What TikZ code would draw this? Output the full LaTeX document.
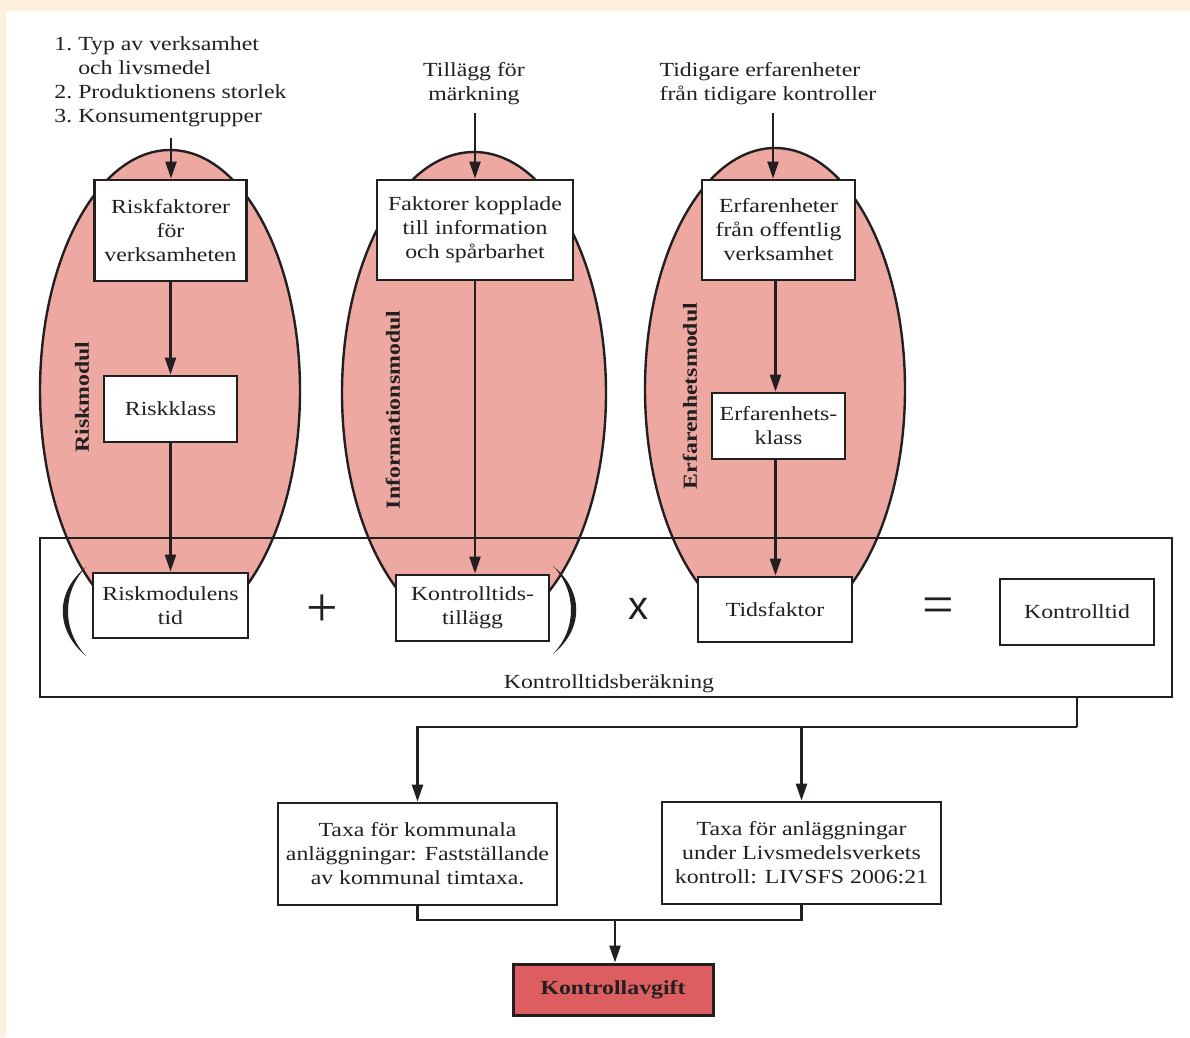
\documentclass[tikz,border=0pt]{standalone}
\usepackage{fontspec}
\setmainfont{Liberation Serif}[FakeStretch=1.19]
\newfontfamily\opserif{Liberation Serif}
\newfontfamily\opsans{Liberation Sans}
\usetikzlibrary{arrows.meta,shapes.geometric}
\definecolor{ink}{HTML}{231F20}
\definecolor{salmon}{HTML}{EDA8A1}
\definecolor{redbox}{HTML}{DD5E60}
\definecolor{cream}{HTML}{FDF0DC}
\begin{document}
\begin{tikzpicture}[x=1pt,y=-1pt,
  every node/.style={font=\fontsize{20}{24}\selectfont, text=ink},
  box/.style={draw=ink, line width=2.8pt, fill=white, align=center, inner sep=0pt},
  modul/.style={ellipse, fill=salmon, draw=ink, line width=2.4pt, inner sep=0pt, minimum width=260pt, minimum height=482pt},
  arr/.style={draw=ink, line width=2.4pt, -{Triangle[length=17pt,width=11pt]}},
  conn/.style={draw=ink, line width=2.4pt},
  lbl/.style={font=\bfseries\fontsize{20}{24}\selectfont, rotate=90},
  paren/.style={fill=ink}]
% background
\fill[white] (0,0) rectangle (1190,1037);
\fill[cream] (0,0) rectangle (1190,11);
\fill[cream] (0,0) rectangle (6,1037);
\useasboundingbox (0,0) rectangle (1190,1037);

% modules (ellipses)
\node (e1) [modul] at (170,391) {};
\node (e2) [modul, minimum width=264pt] at (474,393) {};
\node (e3) [modul] at (775,389) {};

% calculation frame
\node (calc) [draw=ink, line width=1.8pt, minimum width=1132pt, minimum height=159pt, inner sep=0pt] at (606,617.5) {};
\node (calclbl) at (609,684) {Kontrolltidsberäkning};

% inputs
\node (in1) [align=left] at (170.5,82) {1.~Typ av verksamhet\\\hphantom{1.~}och livsmedel\\2.~Produktionens storlek\\3.~Konsumentgrupper};
\node (in2) [align=center] at (474,84) {Tillägg för\\märkning};
\node (in3) [align=left] at (768,84) {Tidigare erfarenheter\\från tidigare kontroller};
\coordinate (s1) at (171,138);
\coordinate (s2) at (475,113);
\coordinate (s3) at (773,113);

% boxes
\node (rf) [box, minimum width=152pt, minimum height=101pt] at (170.5,230.5) {Riskfaktorer\\för\\verksamheten};
\node (rk) [box, minimum width=133pt, minimum height=66pt] at (170.5,409) {Riskklass};
\node (rt) [box, minimum width=155pt, minimum height=65pt] at (170.5,605.5) {Riskmodulens\\tid};
\node (fk) [box, minimum width=196pt, minimum height=100pt] at (475,230) {Faktorer kopplade\\till information\\och spårbarhet};
\node (kt) [box, minimum width=153pt, minimum height=66pt] at (472.5,608) {Kontrolltids-\\tillägg};
\node (ef) [box, minimum width=153pt, minimum height=100pt] at (778.5,230) {Erfarenheter\\från offentlig\\verksamhet};
\node (ek) [box, minimum width=133pt, minimum height=66pt] at (778.5,426) {Erfarenhets-\\klass};
\node (tf) [box, minimum width=154pt, minimum height=65pt] at (775,609.5) {Tidsfaktor};
\node (kn) [box, minimum width=154pt, minimum height=66pt] at (1077,612) {Kontrolltid};
\node (tk) [box, minimum width=279pt, minimum height=102pt] at (417.5,854) {Taxa för kommunala\\anläggningar: Fastställande\\av kommunal timtaxa.};
\node (ta) [box, minimum width=279pt, minimum height=102pt] at (801.5,853) {Taxa för anläggningar\\under Livsmedelsverkets\\kontroll: LIVSFS 2006:21};
\node (ka) [box, fill=redbox, line width=3pt, minimum width=200pt, minimum height=51pt, font=\bfseries\fontsize{20}{24}\selectfont] at (613,989.5) {Kontrollavgift};

% module labels
\node (l1) [lbl] at (82,397) {Riskmodul};
\node (l2) [lbl] at (393,410) {Informationsmodul};
\node (l3) [lbl] at (690,396) {Erfarenhetsmodul};

% operators
\node (plus) at (322,611) {\opserif\fontsize{56}{56}\selectfont +};
\node (times) at (638,609) {\opsans\fontsize{40}{40}\selectfont x};
\node (eq) at (938,611) {\opserif\fontsize{56}{56}\selectfont =};

% parentheses
\fill[paren] (86,567) .. controls (55,592) and (55,630) .. (86,656)
  .. controls (62,630) and (62,592) .. (86,567) -- cycle;
\fill[paren] (553,566) .. controls (584,591) and (584,629) .. (553,654)
  .. controls (577,629) and (577,591) .. (553,566) -- cycle;

% arrows in modules
\draw[arr] (s1) -- (s1 |- rf.north);
\draw[arr] (rf.south) -- (rf.south |- rk.north);
\draw[arr] (rk.south) -- (rk.south |- rt.north);
\draw[arr] (s2) -- (s2 |- fk.north);
\draw[arr] (fk.south) -- (fk.south |- kt.north);
\draw[arr] (s3) -- (s3 |- ef.north);
\draw[arr] ([xshift=-3pt]ef.south) -- ([xshift=-3pt]ef.south |- ek.north);
\draw[arr] ([xshift=-3pt]ek.south) -- ([xshift=-3pt]ek.south |- tf.north);

% lower flow
\coordinate (j) at (1077,727);
\draw[conn] (kn.south |- calc.south) -- (j);
\draw[arr] (j) -| (tk.north);
\draw[arr] (ta.north |- j) -- (ta.north);
\coordinate (m) at (615,920);
\draw[conn] (tk.south) -- (tk.south |- m) -- (ta.south |- m) -- (ta.south);
\draw[arr] (m) -- (m |- ka.north);
\end{tikzpicture}
\end{document}
